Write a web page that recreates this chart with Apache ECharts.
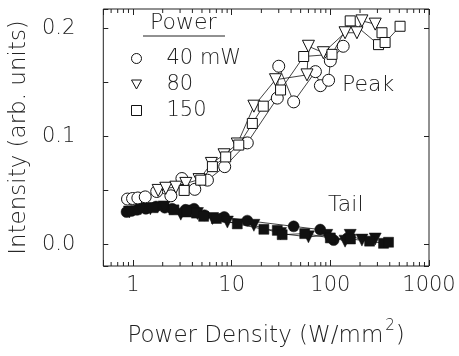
<!DOCTYPE html>
<html>
<head>
<meta charset="utf-8">
<script src="https://cdn.jsdelivr.net/npm/echarts@6/dist/echarts.min.js"></script>
<style>
  html, body { margin: 0; padding: 0; background: #fff; }
  #chart { width: 459px; height: 356px; }
</style>
</head>
<body>
<div id="chart"></div>
<script>
// axis extents
const X_MIN = 0.5
const X_MAX = 1000
const Y_MIN = -0.02
const Y_MAX = 0.218

// log minor ticks (2..9 per decade)
const xMinorTicks = [0.6, 0.7, 0.8, 0.9, 2, 3, 4, 5, 6, 7, 8, 9,
  20, 30, 40, 50, 60, 70, 80, 90, 200, 300, 400, 500, 600, 700, 800, 900]

const seriesNames = ['40 mW', '80', '150']

// Peak (open symbols)
const peak40 = [[0.88, 0.042], [0.99, 0.0425], [1.12, 0.043], [1.33, 0.044], [1.74, 0.049],
  [2.42, 0.045], [3.13, 0.061], [4.23, 0.051], [5.68, 0.0595], [8.5, 0.072], [14.4, 0.094],
  [29, 0.1355], [30, 0.165], [42.5, 0.132], [70.6, 0.160], [79.3, 0.147], [96, 0.152],
  [100, 0.170], [135, 0.1835]]
const peak80 = [[1.8, 0.050], [2.15, 0.052], [2.72, 0.053], [3.43, 0.0565], [4.67, 0.060],
  [6.23, 0.075], [8.37, 0.083], [11.4, 0.093], [16.8, 0.128], [27.8, 0.1525], [58, 0.157],
  [60, 0.1835], [85, 0.1775], [141, 0.196], [186, 0.196], [209, 0.207], [285, 0.204]]
const peak150 = [[3.3, 0.050], [4.86, 0.0595], [6.38, 0.072], [8.7, 0.081], [11.8, 0.092],
  [16.2, 0.112], [20.9, 0.128], [31.3, 0.143], [53.7, 0.174], [104, 0.176], [159, 0.207],
  [308, 0.185], [334, 0.196], [359, 0.187], [509, 0.202]]

// Tail (filled symbols)
const tail40 = [[0.86, 0.030], [0.97, 0.031], [1.1, 0.032], [1.35, 0.033], [1.71, 0.035],
  [2.1, 0.034], [2.5, 0.033], [3.4, 0.032], [4.16, 0.033], [5.3, 0.027], [8.4, 0.0254],
  [14.4, 0.022], [42.5, 0.0167], [79, 0.0137], [108, 0.004], [150, 0.006]]
const tail80 = [[0.92, 0.030], [1.2, 0.033], [1.5, 0.033], [2.07, 0.0347], [3.05, 0.028],
  [3.8, 0.031], [4.5, 0.0286], [6.4, 0.024], [9.05, 0.0207], [16.8, 0.0177], [31.3, 0.010],
  [60, 0.007], [92, 0.0084], [141, 0.003], [159, 0.0084], [209, 0.004], [285, 0.005]]
const tail150 = [[1.6, 0.034], [2.6, 0.032], [3.5, 0.030], [4.4, 0.029], [5.2, 0.026],
  [7.0, 0.024], [11.4, 0.019], [21.2, 0.014], [29, 0.013], [32.5, 0.009], [55, 0.010],
  [100, 0.006], [160, 0.005], [250, 0.003], [346, 0.001], [389, 0.002]]

const FONT = 'DejaVu Sans'
const INK = '#222'
const txt = (size) => ({ fontFamily: FONT, fontSize: size, color: INK, fontWeight: 200 })

const chart = echarts.init(document.getElementById('chart'), null, { renderer: 'canvas' })

const openStyle = { color: '#fff', borderColor: '#111', borderWidth: 1 }
const lineStyle = { color: '#111', width: 0.8 }
const DOWN_TRI = 'path://M0,0L10,0L5,9Z'

function peakSeries(name, data, symbol, size, rotate) {
  return {
    name, type: 'line', data, symbol, symbolSize: size, symbolRotate: rotate,
    lineStyle, itemStyle: openStyle, z: 4, animation: false
  }
}
function tailSeries(name, data, symbol, size, rotate) {
  return {
    name, type: 'line', data, symbol, symbolSize: size, symbolRotate: rotate,
    lineStyle, itemStyle: { color: '#111', borderColor: '#111', borderWidth: 0.5 }, z: 3, animation: false
  }
}

const xAxisBase = {
  type: 'log', min: X_MIN, max: X_MAX, logBase: 10,
  axisLine: { show: false, onZero: false },
  axisTick: { show: true, inside: true, length: 6, lineStyle: { color: INK } },
  splitLine: { show: false },
  minorTick: { show: false }
}
const yAxisBase = {
  type: 'value', min: Y_MIN, max: Y_MAX,
  axisLine: { show: false, onZero: false },
  axisTick: { show: true, inside: true, length: 5, lineStyle: { color: INK } },
  splitLine: { show: false }
}

chart.setOption({
  backgroundColor: '#fff',
  animation: false,
  grid: {
    left: 102, right: 30, top: 9, bottom: 90,
    show: true, borderColor: INK, borderWidth: 1, backgroundColor: 'transparent'
  },
  xAxis: [
    {
      ...xAxisBase,
      position: 'bottom',
      name: '{b|Power Density (W/mm}{sup|2}{b|)}',
      nameLocation: 'middle',
      nameGap: 53,
      nameTextStyle: {
        ...txt(23),
        rich: {
          b: { ...txt(23), verticalAlign: 'bottom' },
          sup: { ...txt(15), verticalAlign: 'bottom', padding: [0, 1, 14, 2] }
        }
      },
      axisLabel: {
        margin: 9, ...txt(21),
        formatter: v => {
          const l = Math.log10(v)
          return Math.abs(l - Math.round(l)) < 1e-6 ? String(Math.round(v)) : ''
        }
      }
    },
    { ...xAxisBase, position: 'top', axisLabel: { show: false } }
  ],
  yAxis: [
    {
      ...yAxisBase,
      position: 'left',
      minInterval: 0.05, maxInterval: 0.05,
      name: 'Intensity (arb. units)',
      nameLocation: 'middle',
      nameGap: 66,
      nameTextStyle: txt(23),
      axisLabel: {
        margin: 28, ...txt(21),
        formatter: v => {
          const r = Math.round(v * 10) / 10
          return (v >= -1e-9 && Math.abs(v - r) < 1e-6) ? r.toFixed(1) : ''
        }
      }
    },
    {
      ...yAxisBase,
      position: 'right',
      minInterval: 0.1, maxInterval: 0.1,
      axisLabel: { show: false }
    }
  ],
  legend: {
    orient: 'vertical',
    left: 126, top: 43,
    itemWidth: 10, itemHeight: 10,
    itemGap: 5,
    selectedMode: false,
    textStyle: { ...txt(21), padding: [0, 0, 0, 20] },
    data: [
      { name: seriesNames[0], icon: 'circle', itemStyle: openStyle },
      { name: seriesNames[1], icon: DOWN_TRI, itemStyle: openStyle },
      { name: seriesNames[2], icon: 'rect', itemStyle: openStyle }
    ]
  },
  graphic: [
    { type: 'text', left: 150, top: 12, style: { text: 'Power', font: '200 22px "DejaVu Sans"', fill: INK } },
    { type: 'line', shape: { x1: 143, y1: 36, x2: 225, y2: 36 }, style: { stroke: INK, lineWidth: 1 } },
    { type: 'text', left: 342, top: 74, style: { text: 'Peak', font: '200 22px "DejaVu Sans"', fill: INK } },
    { type: 'text', left: 328, top: 194, style: { text: 'Tail', font: '200 22px "DejaVu Sans"', fill: INK } }
  ],
  series: [
    peakSeries(seriesNames[0], peak40, 'circle', 12, 0),
    peakSeries(seriesNames[1], peak80, 'triangle', 12, 180),
    peakSeries(seriesNames[2], peak150, 'rect', 10, 0),
    tailSeries('tail40', tail40, 'circle', 11, 0),
    tailSeries('tail80', tail80, 'triangle', 12, 180),
    tailSeries('tail150', tail150, 'rect', 10, 0),
    {
      // log-scale minor ticks at bottom and top
      type: 'custom',
      silent: true,
      data: xMinorTicks.map(v => [v, Y_MIN]),
      encode: { x: 0, y: 1 },
      renderItem: (params, api) => {
        const v = api.value(0)
        const b = api.coord([v, Y_MIN])
        const t = api.coord([v, Y_MAX])
        const st = { stroke: INK, lineWidth: 1 }
        return {
          type: 'group',
          children: [
            { type: 'line', shape: { x1: b[0], y1: b[1], x2: b[0], y2: b[1] - 4 }, style: st },
            { type: 'line', shape: { x1: t[0], y1: t[1], x2: t[0], y2: t[1] + 4 }, style: st }
          ]
        }
      },
      z: 2
    }
  ]
})
</script>
</body>
</html>
